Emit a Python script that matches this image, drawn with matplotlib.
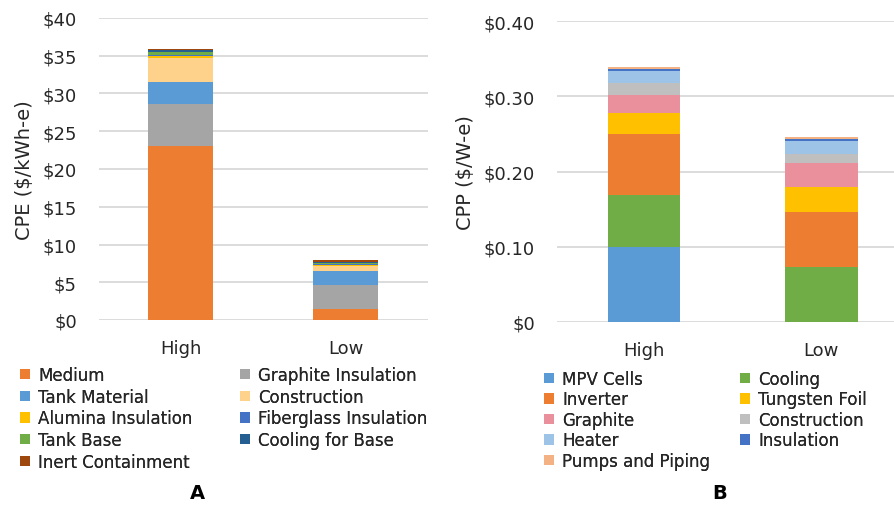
import matplotlib
matplotlib.use("Agg")
import matplotlib.pyplot as plt
import numpy as np

plt.rcParams['font.family'] = ['DejaVu Sans']

# ---- chart A data: cost per energy ($/kWh-e)
cases = ["High", "Low"]
a_labels = ["Medium", "Graphite Insulation", "Tank Material", "Construction",
            "Alumina Insulation", "Fiberglass Insulation", "Tank Base",
            "Cooling for Base", "Inert Containment"]
a_high = [23.0, 5.6, 2.9, 3.2, 0.25, 0.1, 0.5, 0.2, 0.2]
a_low = [1.5, 3.1, 1.9, 0.65, 0.2, 0.05, 0.2, 0.1, 0.2]
a_colors = ["#ED7D31", "#A5A5A5", "#5B9BD5", "#FFD28C", "#FFC000",
            "#4472C4", "#70AD47", "#255E91", "#9E480E"]

# ---- chart B data: cost per power ($/W-e)
b_labels = ["MPV Cells", "Cooling", "Inverter", "Tungsten Foil", "Graphite",
            "Construction", "Heater", "Insulation", "Pumps and Piping"]
b_high = [0.100, 0.069, 0.081, 0.028, 0.024, 0.015, 0.017, 0.002, 0.003]
b_low = [0.0, 0.073, 0.073, 0.034, 0.031, 0.012, 0.018, 0.002, 0.003]
b_colors = ["#5B9BD5", "#70AD47", "#ED7D31", "#FFC000", "#E9909C",
            "#BFBFBF", "#9DC3E6", "#4472C4", "#F4B183"]

W, H = 894, 506
fig = plt.figure(figsize=(W / 100, H / 100), dpi=100)

def px_axes(l, r, t, b):
    return fig.add_axes([l / W, 1 - b / H, (r - l) / W, (b - t) / H])

def stacked(ax, highs, lows, colors, width):
    x = np.arange(len(cases))
    bottom = np.zeros(len(cases))
    handles = []
    for h, lo, c in zip(highs, lows, colors):
        vals = np.array([h, lo])
        bars = ax.bar(x, vals, width, bottom=bottom, color=c, zorder=3)
        handles.append(bars)
        bottom += vals
    ax.set_xticks(x)
    ax.set_xticklabels(cases)
    for s in ax.spines.values():
        s.set_visible(False)
    ax.yaxis.grid(True, color="#D9D9D9", linewidth=1.3, zorder=0)
    ax.tick_params(axis="both", length=0, labelsize=13, colors="#262626")
    ax.tick_params(axis="y", pad=16)
    ax.tick_params(axis="x", pad=14)
    return handles

def col_legend(handles, labels, idx, x, y, spacing):
    leg = fig.legend([handles[i] for i in idx], [labels[i] for i in idx],
                     loc="upper left", bbox_to_anchor=(x / W, 1 - y / H),
                     frameon=False, fontsize=12, borderpad=0, borderaxespad=0,
                     handlelength=0.6, handleheight=0.6, handletextpad=0.5,
                     labelspacing=spacing, labelcolor="#262626")
    fig.add_artist(leg)

# chart A
axA = px_axes(99, 428, 19, 321)
hA = stacked(axA, a_high, a_low, a_colors, 0.39)
axA.set_xlim(-0.494, 1.5)
axA.set_ylim(0, 40)
axA.set_yticks(range(0, 41, 5))
axA.set_yticklabels([f"${v}" for v in range(0, 41, 5)])
axA.set_ylabel("CPE ($/kWh-e)", fontsize=14, color="#262626")
axA.yaxis.set_label_coords(-0.198, 0.5)

# chart B
axB = px_axes(557, 894, 22, 323)
hB = stacked(axB, b_high, b_low, b_colors, 0.41)
axB.set_xlim(-0.49, 1.41)
axB.set_ylim(0, 0.40)
axB.set_yticks([0, 0.1, 0.2, 0.3, 0.4])
axB.set_yticklabels(["$0", "$0.10", "$0.20", "$0.30", "$0.40"])
axB.set_ylabel("CPP ($/W-e)", fontsize=14, color="#262626")
axB.yaxis.set_label_coords(-0.243, 0.5)

# legends (two columns each, row order as in the original)
col_legend(hA, a_labels, [0, 2, 4, 6, 8], 20, 367, 0.22)
col_legend(hA, a_labels, [1, 3, 5, 7], 240, 367, 0.22)
col_legend(hB, b_labels, [0, 2, 4, 6, 8], 544, 371, 0.15)
col_legend(hB, b_labels, [1, 3, 5, 7], 740, 371, 0.15)

fig.text(197 / W, 1 - 494 / H, "A", fontsize=14, fontweight="bold", ha="center", va="center")
fig.text(720 / W, 1 - 494 / H, "B", fontsize=14, fontweight="bold", ha="center", va="center")

fig.savefig("out.png", dpi=100)
